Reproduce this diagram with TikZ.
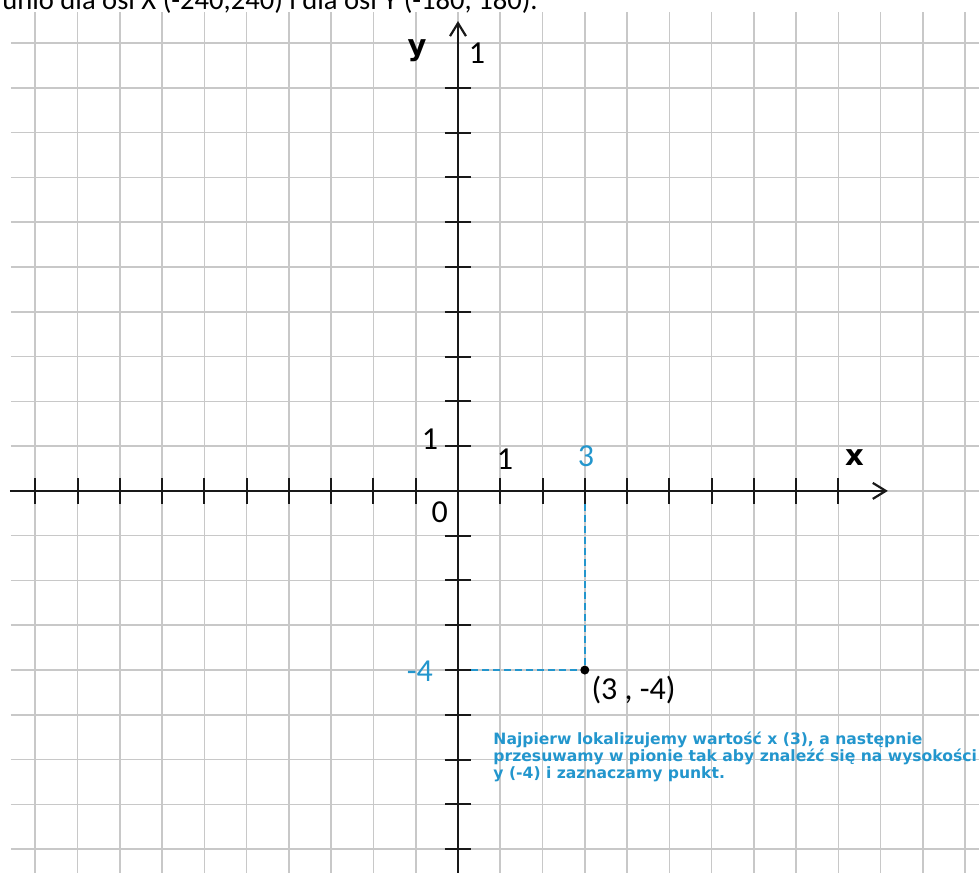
\documentclass[tikz,border=0pt]{standalone}
\usepackage{fontspec}
\setmainfont{Carlito}
\newfontfamily\boldsans{DejaVu Sans}
\usetikzlibrary{arrows.meta,positioning}
\definecolor{hintblue}{RGB}{35,150,205}
\definecolor{gridgray}{RGB}{200,200,200}

\begin{document}
\begin{tikzpicture}[
  x=21.14pt, y=22.4pt,
  >={Straight Barb[length=6.5pt,width=8pt]},
  gridline/.style={draw=gridgray, line width=0.8pt},
  axis/.style={->, line width=1.1pt, draw=black!90},
  tick/.style={line width=1pt, draw=black!90},
  num/.style={font=\fontsize{16}{19}\selectfont, inner sep=0pt, anchor=base},
  axislabel/.style={font=\boldsans\bfseries\fontsize{14.5}{17}\selectfont, inner sep=0pt, anchor=base},
  guide/.style={draw=hintblue, line width=0.7pt, dash pattern=on 3.5pt off 2pt}
]
\useasboundingbox (-10.835,-8.527) rectangle (12.326,10.96);

% grid
\foreach \i in {-10,...,12} \draw[gridline] (\i,-8.6) -- (\i,10.69);
\foreach \j in {-8,...,10} \draw[gridline] (-10.575,\j) -- (12.4,\j);

\node[anchor=base west, inner sep=0pt, font=\fontsize{14.3}{17}\selectfont] (range) at (-10.788,10.737) {unio dla osi X (-240,240) i dla osi Y (-180, 180).};

% axes
\coordinate (xleft) at (-10.6,0);
\coordinate (xright) at (10.17,0);
\coordinate (ybottom) at (0,-8.6);
\coordinate (ytop) at (0,10.49);
\draw[axis] (xleft) -- (xright);
\draw[axis] (ybottom) -- (ytop);
\foreach \i in {-10,-9,...,-1,1,2,...,9} \draw[tick] (\i,-0.29) -- (\i,0.29);
\foreach \j in {-8,-7,...,-1,1,2,...,9} \draw[tick] (-0.31,\j) -- (0.31,\j);

% point (3,-4)
\coordinate (xthree) at (3,-0.29);
\coordinate (yfour) at (0.31,-4);
\coordinate (Pc) at (3,-4);
\draw[guide] (xthree) -- (Pc);
\draw[guide] (yfour) -- (Pc);
\node[circle, fill=black, inner sep=0pt, minimum size=4.5pt] (P) at (Pc) {};

\node[axislabel] (ylabel) at (-0.97,9.71) {y};
\node[num] (ytopnum) at (0.45,9.55) {1};
\node[axislabel] (xlabel) at (9.38,0.56) {x};
\node[num] (yone) at (-0.66,0.915) {1};
\node[num] (xone) at (1.11,0.47) {1};
\node[num, text=hintblue] (xthreelabel) at (3.03,0.536) {3};
\node[num] (zero) at (-0.43,-0.71) {0};
\node[num, text=hintblue] (yfourlabel) at (-0.9,-4.26) {-4};
\node[num, anchor=base west] (plabel) at (3.15,-4.65) {(3 , -4)};

\node[anchor=north west, inner sep=0pt, align=left, text=hintblue, font=\boldsans\bfseries\fontsize{7.8}{8.5}\selectfont] (hint) at (0.83,-5.38) {Najpierw lokalizujemy wartość x (3), a następnie\\przesuwamy w pionie tak aby znaleźć się na wysokości\\y (-4) i zaznaczamy punkt.};
\end{tikzpicture}
\end{document}
